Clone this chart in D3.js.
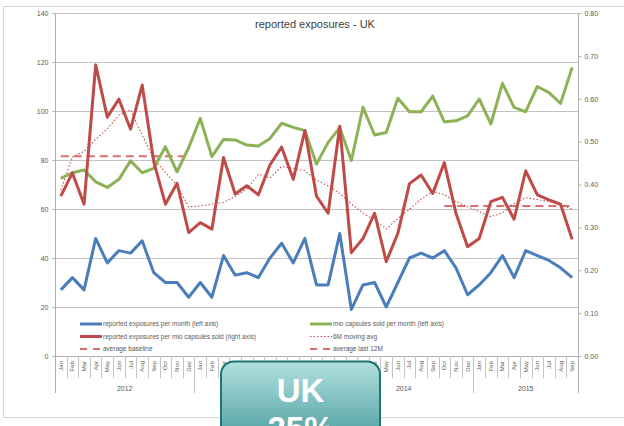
<!DOCTYPE html>
<html>
<head>
<meta charset="utf-8">
<script src="https://cdnjs.cloudflare.com/ajax/libs/d3/7.8.5/d3.min.js"></script>
<style>
  html, body { margin: 0; padding: 0; background: #fff; }
  svg { display: block; }
  text { font-family: "Liberation Sans", Arial, sans-serif; }
</style>
</head>
<body>
<script>
// Category axis: months grouped by year
const monthNames = ["Jan","Feb","Mar","Apr","May","Jun","Jul","Aug","Sep","Oct","Nov","Dec"];
const years = ["2012","2013","2014","2015"];
const monthsPerYear = [12, 12, 12, 9];

// Left axis series
const exposuresPerMonth = [
  27, 32, 27, 48, 38, 43, 42, 47, 34, 30, 30, 24,
  30, 24, 41, 33, 34, 32, 40, 46, 38, 48, 29, 29,
  50, 19, 29, 30, 20, 30, 40, 42, 40, 43, 36, 25,
  29, 34, 41, 32, 43, 41, 39, 36, 32
];
const capsulesSold = [
  72.5, 74.8, 75.9, 71.1, 68.8, 72.1, 79.7, 74.8, 76.6, 85.4, 75.2, 85.0,
  97.0, 81.4, 88.4, 88.2, 86.1, 85.7, 88.8, 95.0, 93.3, 92.0, 78.3, 87.2,
  93.2, 79.8, 101.5, 90.2, 91.2, 105.2, 99.7, 99.7, 106.1, 95.6, 96.0, 98.0,
  104.9, 94.7, 111.3, 101.5, 99.7, 110.0, 107.5, 103.1, 117.8
];

// Right axis series
const exposuresPerMio = [
  0.373, 0.427, 0.354, 0.679, 0.557, 0.599, 0.529, 0.632, 0.453, 0.354, 0.403, 0.288,
  0.311, 0.296, 0.463, 0.378, 0.397, 0.376, 0.446, 0.487, 0.412, 0.526, 0.373, 0.333,
  0.536, 0.241, 0.274, 0.333, 0.220, 0.286, 0.402, 0.422, 0.379, 0.451, 0.333, 0.255,
  0.274, 0.360, 0.370, 0.319, 0.432, 0.376, 0.364, 0.354, 0.272
];
const movingAvg6M = [
  0.387, 0.465, 0.477, 0.505, 0.530, 0.562, 0.574, 0.515, 0.460, 0.428, 0.398, 0.348,
  0.350, 0.354, 0.358, 0.372, 0.389, 0.424, 0.415, 0.442, 0.438, 0.432, 0.410, 0.397,
  0.379, 0.355, 0.333, 0.317, 0.296, 0.321, 0.342, 0.366, 0.384, 0.376, 0.360, 0.348,
  0.337, 0.325, 0.334, 0.356, 0.369, 0.365, 0.360, 0.354, 0.342
];
const averageBaseline = [
  0.466, 0.466, 0.466, 0.466, 0.466, 0.466, 0.466, 0.466, 0.466, 0.466, 0.466, 0.466,
  null, null, null, null, null, null, null, null, null, null, null, null,
  null, null, null, null, null, null, null, null, null, null, null, null,
  null, null, null, null, null, null, null, null, null
];
const averageLast12M = [
  null, null, null, null, null, null, null, null, null, null, null, null,
  null, null, null, null, null, null, null, null, null, null, null, null,
  null, null, null, null, null, null, null, null, null, 0.350, 0.350, 0.350,
  0.350, 0.350, 0.350, 0.350, 0.350, 0.350, 0.350, 0.350, 0.350
];

const leftTicks = [0, 20, 40, 60, 80, 100, 120, 140];
const rightTicks = [0, 0.1, 0.2, 0.3, 0.4, 0.5, 0.6, 0.7, 0.8];

const chartTitle = "reported exposures - UK";
const legendItems = [
  { label: "reported exposures per month (left axis)", color: "#4A7EBB", style: "solid", col: 0, row: 0 },
  { label: "reported exposures per mio capsules sold (right axis)", color: "#BE4B48", style: "solid", col: 0, row: 1 },
  { label: "average baseline", color: "#D9706C", style: "dash", col: 0, row: 2 },
  { label: "mio capsules sold per month (left axis)", color: "#8DB255", style: "solid", col: 1, row: 0 },
  { label: "6M moving avg", color: "#C0504D", style: "dot", col: 1, row: 1 },
  { label: "average last 12M", color: "#D9706C", style: "dash", col: 1, row: 2 }
];
const badgeLines = ["UK", "25%"];

// Build month categories
const categories = [];
years.forEach((y, yi) => {
  for (let m = 0; m < monthsPerYear[yi]; m++) categories.push({ month: monthNames[m], year: y });
});

const W = 624, H = 426;
const plot = { left: 55, right: 578, top: 13, bottom: 356 };

const svg = d3.select("body").append("svg").attr("width", W).attr("height", H);

// Outer chart frame
svg.append("path")
  .attr("d", `M${W},6.5 H3.5 V417.5 H${W}`)
  .attr("fill", "none").attr("stroke", "#d4d4d4").attr("stroke-width", 1);

const x = d3.scaleBand().domain(d3.range(categories.length)).range([plot.left, plot.right]);
const cx = i => x(i) + x.bandwidth() / 2;
const yL = d3.scaleLinear().domain([0, 140]).range([plot.bottom, plot.top]);
const yR = d3.scaleLinear().domain([0, 0.8]).range([plot.bottom, plot.top]);

// Horizontal gridlines
svg.append("g").selectAll("line").data(leftTicks.filter(t => t > 0)).join("line")
  .attr("x1", plot.left).attr("x2", plot.right)
  .attr("y1", d => Math.round(yL(d)) + 0.5).attr("y2", d => Math.round(yL(d)) + 0.5)
  .attr("stroke", "#c4c4c4").attr("stroke-width", 1);

// Left axis
const axL = svg.append("g").attr("transform", `translate(${plot.left + 0.5},0)`)
  .call(d3.axisLeft(yL).tickValues(leftTicks).tickSize(3).tickPadding(4).tickFormat(d3.format("d")));
axL.select(".domain").remove();
axL.selectAll(".tick line").attr("stroke", "#b0b0b0");
axL.selectAll("text").attr("fill", "#595959").style("font-size", "7px");

// Right axis
const axR = svg.append("g").attr("transform", `translate(${plot.right + 0.5},0)`)
  .call(d3.axisRight(yR).tickValues(rightTicks).tickSize(3).tickPadding(3).tickFormat(d3.format(".2f")));
axR.select(".domain").remove();
axR.selectAll(".tick line").attr("stroke", "#b0b0b0");
axR.selectAll("text").attr("fill", "#595959").style("font-size", "7px");

// Vertical axis lines extending down through the category labels
[plot.left, plot.right].forEach(px => {
  svg.append("line").attr("x1", px + 0.5).attr("x2", px + 0.5)
    .attr("y1", plot.top).attr("y2", 393)
    .attr("stroke", "#b0b0b0").attr("stroke-width", 1);
});

// Category axis baseline
svg.append("line").attr("x1", plot.left).attr("x2", plot.right)
  .attr("y1", plot.bottom + 0.5).attr("y2", plot.bottom + 0.5)
  .attr("stroke", "#b0b0b0");

// Month separators and labels
const xAxis = svg.append("g");
categories.forEach((c, i) => {
  if (i > 0) {
    const bx = Math.round(x(i)) + 0.5;
    const yearStart = c.month === "Jan";
    xAxis.append("line").attr("x1", bx).attr("x2", bx)
      .attr("y1", plot.bottom).attr("y2", yearStart ? 393 : 378)
      .attr("stroke", "#c4c4c4");
  }
  xAxis.append("text")
    .attr("transform", `translate(${cx(i) + 2},361) rotate(-90)`)
    .attr("text-anchor", "end")
    .attr("fill", "#595959")
    .style("font-size", "6px")
    .text(c.month);
});

// Year labels
let startIdx = 0;
years.forEach((y, yi) => {
  const n = monthsPerYear[yi];
  const x0 = x(startIdx), x1 = x(startIdx + n - 1) + x.bandwidth();
  xAxis.append("text")
    .attr("x", (x0 + x1) / 2).attr("y", 391)
    .attr("text-anchor", "middle").attr("fill", "#595959")
    .style("font-size", "7px").text(y);
  startIdx += n;
});

// Title
svg.append("text").attr("x", 315).attr("y", 28)
  .attr("text-anchor", "middle").attr("fill", "#404040")
  .style("font-size", "11px").text(chartTitle);

// Series lines
function drawSeries(values, scale, color, width, dash) {
  const line = d3.line()
    .defined(d => d != null)
    .x((d, i) => cx(i))
    .y(d => scale(d));
  svg.append("path").datum(values)
    .attr("d", line)
    .attr("fill", "none")
    .attr("stroke", color)
    .attr("stroke-width", width)
    .attr("stroke-linejoin", "round")
    .attr("stroke-dasharray", dash || null);
}

drawSeries(averageBaseline, yR, "#D9706C", 2, "8,5");
drawSeries(averageLast12M, yR, "#D9706C", 2, "8,5");
drawSeries(movingAvg6M, yR, "#C0504D", 1.1, "1.5,2");
drawSeries(exposuresPerMonth, yL, "#4A7EBB", 3);
drawSeries(capsulesSold, yL, "#8DB255", 3);
drawSeries(exposuresPerMio, yR, "#BE4B48", 3);

// Legend
const legend = svg.append("g");
const colX = [80, 310], rowY = [324, 336.5, 349];
legendItems.forEach(it => {
  const lx = colX[it.col], ly = rowY[it.row];
  const sample = legend.append("line")
    .attr("x1", lx).attr("x2", lx + 22).attr("y1", ly).attr("y2", ly)
    .attr("stroke", it.color);
  if (it.style === "solid") sample.attr("stroke-width", 3);
  if (it.style === "dash") sample.attr("stroke-width", 2).attr("stroke-dasharray", "7,6");
  if (it.style === "dot") sample.attr("stroke-width", 1.1).attr("stroke-dasharray", "1.5,2");
  legend.append("text").attr("x", lx + 23).attr("y", ly + 2.2)
    .attr("fill", "#595959").style("font-size", "6.5px").text(it.label);
});

// Country badge
const defs = svg.append("defs");
const grad = defs.append("linearGradient").attr("id", "badgeFill")
  .attr("x1", 0).attr("y1", 0).attr("x2", 0).attr("y2", 1);
grad.append("stop").attr("offset", "0%").attr("stop-color", "#b2e0e0");
grad.append("stop").attr("offset", "60%").attr("stop-color", "#5faaaa");
grad.append("stop").attr("offset", "100%").attr("stop-color", "#3f8f8f");

svg.append("rect").attr("x", 221).attr("y", 361.5).attr("width", 159).attr("height", 110)
  .attr("rx", 13).attr("fill", "url(#badgeFill)")
  .attr("stroke", "#1f7474").attr("stroke-width", 2);

badgeLines.forEach((t, i) => {
  svg.append("text").attr("x", 300.5).attr("y", 402 + i * 38)
    .attr("text-anchor", "middle").attr("fill", "#ffffff")
    .style("font-size", "33px").style("font-weight", "bold").text(t);
});
</script>
</body>
</html>
